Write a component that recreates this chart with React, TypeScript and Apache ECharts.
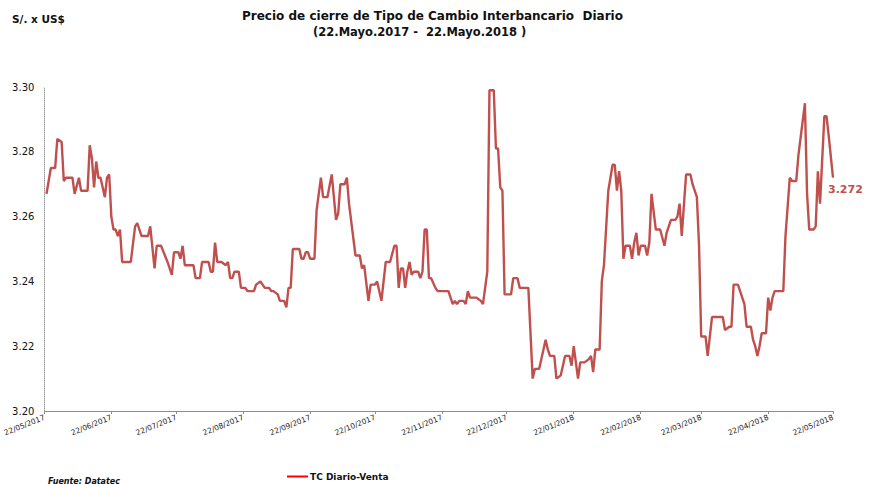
import React, { useEffect, useRef } from "react";
import * as echarts from "echarts";

// Days elapsed since 22/05/2017 for each closing price
const dayOffsets = [
  1, 3, 5, 6, 8, 9, 10, 11, 13, 14, 16, 17, 20, 21, 22, 23, 24, 25, 26, 28,
  29, 30, 31, 32, 33, 34, 35, 36, 40, 42, 43, 45, 48, 49, 51, 52, 54, 57, 59, 60,
  62, 63, 64, 65, 69, 70, 72, 73, 76, 77, 78, 79, 80, 82, 84, 85, 86, 87, 88, 90,
  91, 93, 94, 97, 98, 100, 101, 102, 104, 105, 106, 108, 109, 111, 112, 113, 114, 115, 118, 119,
  120, 121, 122, 123, 125, 126, 128, 129, 131, 133, 135, 136, 137, 139, 140, 141, 144, 146, 147, 148,
  150, 151, 153, 154, 156, 158, 160, 162, 163, 164, 165, 166, 167, 168, 169, 170, 171, 173, 174, 175,
  176, 177, 178, 179, 181, 182, 187, 188, 189, 190, 191, 192, 194, 195, 196, 197, 200, 202, 203, 205,
  206, 208, 209, 210, 211, 212, 213, 216, 217, 219, 220, 224, 226, 227, 229, 230, 232, 233, 234, 236,
  237, 239, 241, 243, 244, 245, 247, 248, 250, 252, 253, 254, 255, 257, 258, 259, 261, 263, 264, 265,
  266, 267, 268, 269, 271, 272, 273, 274, 275, 276, 278, 279, 280, 281, 283, 285, 287, 288, 290, 292,
  293, 294, 295, 297, 299, 300, 302, 303, 304, 306, 307, 309, 313, 314, 315, 317, 318, 319, 321, 322,
  323, 324, 325, 327, 328, 329, 330, 331, 332, 334, 335, 336, 337, 338, 340, 342, 343, 345, 346, 348,
  349, 352, 353, 354, 356, 357, 358, 359, 361, 362, 363, 365,
];

const tcVenta = [
  3.267, 3.275, 3.275, 3.284, 3.283, 3.271, 3.272, 3.272, 3.272, 3.267, 3.272, 3.268, 3.268, 3.282, 3.278, 3.269, 3.277, 3.272, 3.272, 3.266,
  3.272, 3.273, 3.26, 3.256, 3.256, 3.254, 3.256, 3.246, 3.246, 3.257, 3.258, 3.254, 3.254, 3.257, 3.244, 3.251, 3.251, 3.246, 3.242, 3.249,
  3.249, 3.247, 3.251, 3.245, 3.245, 3.241, 3.241, 3.246, 3.246, 3.243, 3.243, 3.252, 3.246, 3.246, 3.245, 3.246, 3.241, 3.241, 3.243, 3.243,
  3.238, 3.238, 3.237, 3.237, 3.239, 3.24, 3.239, 3.238, 3.238, 3.237, 3.237, 3.236, 3.234, 3.234, 3.232, 3.238, 3.238, 3.25, 3.25, 3.247,
  3.247, 3.249, 3.249, 3.247, 3.247, 3.262, 3.272, 3.266, 3.266, 3.273, 3.259, 3.261, 3.27, 3.27, 3.272, 3.264, 3.248, 3.248, 3.244, 3.245,
  3.234, 3.239, 3.239, 3.24, 3.234, 3.246, 3.246, 3.251, 3.251, 3.238, 3.244, 3.244, 3.238, 3.243, 3.246, 3.242, 3.243, 3.243, 3.241, 3.243,
  3.256, 3.256, 3.241, 3.241, 3.238, 3.237, 3.237, 3.235, 3.233, 3.234, 3.233, 3.234, 3.234, 3.233, 3.237, 3.235, 3.235, 3.234, 3.233, 3.243,
  3.299, 3.299, 3.281, 3.281, 3.269, 3.268, 3.236, 3.236, 3.241, 3.241, 3.238, 3.238, 3.21, 3.213, 3.213, 3.216, 3.222, 3.219, 3.217, 3.217,
  3.21, 3.211, 3.217, 3.217, 3.214, 3.22, 3.21, 3.215, 3.215, 3.216, 3.217, 3.212, 3.219, 3.219, 3.24, 3.245, 3.268, 3.276, 3.276, 3.268,
  3.274, 3.268, 3.247, 3.251, 3.251, 3.247, 3.252, 3.255, 3.248, 3.251, 3.251, 3.248, 3.252, 3.267, 3.256, 3.256, 3.251, 3.255, 3.259, 3.259,
  3.26, 3.264, 3.254, 3.273, 3.273, 3.27, 3.266, 3.251, 3.223, 3.223, 3.217, 3.229, 3.229, 3.229, 3.225, 3.226, 3.226, 3.239, 3.239, 3.237,
  3.235, 3.233, 3.226, 3.226, 3.222, 3.22, 3.217, 3.22, 3.224, 3.224, 3.235, 3.231, 3.235, 3.237, 3.237, 3.237, 3.254, 3.272, 3.271, 3.271,
  3.279, 3.295, 3.267, 3.256, 3.256, 3.257, 3.274, 3.264, 3.291, 3.291, 3.285, 3.272,
];

const xTickLabels = [
  "22/05/2017", "22/06/2017", "22/07/2017", "22/08/2017", "22/09/2017", "22/10/2017", "22/11/2017",
  "22/12/2017", "22/01/2018", "22/02/2018", "22/03/2018", "22/04/2018", "22/05/2018",
];

const seriesName = "TC Diario-Venta";
const titleLine1 = "Precio de cierre de Tipo de Cambio Interbancario  Diario";
const titleLine2 = "(22.Mayo.2017 -  22.Mayo.2018 )";
const unitLabel = "S/. x US$";
const sourceLabel = "Fuente: Datatec";

const LINE_COLOR = "#C0504D";
const FONT = "'DejaVu Sans', Verdana, sans-serif";

function parseDMY(s: string): number {
  const [d, m, y] = s.split("/").map(Number);
  return Date.UTC(y, m - 1, d);
}
const origin = parseDMY(xTickLabels[0]);
const tickDays = xTickLabels.map((s) => Math.round((parseDMY(s) - origin) / 86400000));

export default function App() {
  const ref = useRef<HTMLDivElement>(null);
  useEffect(() => {
    if (!ref.current) return;
    const chart = echarts.init(ref.current, null, { renderer: "svg" });
    const data = dayOffsets.map((d, i) => [d, tcVenta[i]]);
    const labelByDay: Record<number, string> = {};
    tickDays.forEach((d, i) => (labelByDay[d] = xTickLabels[i]));
    chart.setOption({
      animation: false,
      backgroundColor: "#ffffff",
      textStyle: { fontFamily: FONT },
      grid: { left: 43, right: 42, top: 87, bottom: 73, containLabel: false },
      xAxis: {
        type: "value",
        min: 0,
        max: tickDays[tickDays.length - 1],
        axisLine: { show: true, lineStyle: { color: "#8c8c8c", width: 1 } },
        axisTick: { show: true, customValues: tickDays, length: 3, lineStyle: { color: "#8c8c8c" } },
        axisLabel: {
          show: true,
          customValues: tickDays,
          rotate: 22,
          fontSize: 7.5,
          color: "#222",
          margin: 6,
          formatter: (v: number) => labelByDay[Math.round(v)] ?? "",
        },
        splitLine: { show: false },
      },
      yAxis: {
        type: "value",
        min: 3.2,
        max: 3.3,
        interval: 0.02,
        axisLine: { show: true, lineStyle: { color: "#9a9a9a", type: "dotted", width: 1 } },
        axisTick: { show: false },
        axisLabel: {
          color: "#111",
          fontSize: 10,
          margin: 10,
          formatter: (v: number) => v.toFixed(2),
        },
        splitLine: {
          show: true,
          lineStyle: {
            color: "#8a8a8a",
            width: 1.2,
            shadowColor: "rgba(180,192,220,0.8)",
            shadowBlur: 5,
            shadowOffsetY: 4,
          },
        },
      },
      legend: {
        left: 287,
        top: 472,
        itemWidth: 21,
        itemHeight: 2,
        itemGap: 4,
        padding: 0,
        data: [{ name: seriesName, icon: "rect", itemStyle: { color: "#ff0000" } }],
        textStyle: { fontSize: 9, fontWeight: "bold", color: "#111", fontFamily: FONT, padding: [0, 0, 0, -3] },
      },
      graphic: [
        {
          type: "text",
          left: 12,
          top: 13,
          style: { text: unitLabel, font: `bold 10.5px ${FONT}`, fill: "#111" },
        },
        {
          type: "text",
          left: 242,
          top: 10,
          style: { text: titleLine1, font: `bold 12px ${FONT}`, fill: "#111" },
        },
        {
          type: "text",
          left: 313,
          top: 26,
          style: { text: titleLine2, font: `bold 11.5px ${FONT}`, fill: "#111" },
        },
        {
          type: "text",
          left: 48,
          top: 477,
          style: { text: sourceLabel, font: `italic bold 8px ${FONT}`, fill: "#111" },
        },
      ],
      series: [
        {
          name: seriesName,
          type: "line",
          data,
          showSymbol: false,
          symbol: "none",
          lineStyle: { color: LINE_COLOR, width: 2.4 },
          itemStyle: { color: LINE_COLOR },
          endLabel: {
            show: true,
            formatter: (p: any) => p.value[1].toFixed(3),
            color: LINE_COLOR,
            fontWeight: "bold",
            fontSize: 11,
            fontFamily: FONT,
            offset: [-13, 12],
          },
        },
      ],
    });
    return () => chart.dispose();
  }, []);
  return (
    <div
      ref={ref}
      style={{ position: "fixed", left: 0, top: 0, width: 875, height: 484 }}
    />
  );
}
